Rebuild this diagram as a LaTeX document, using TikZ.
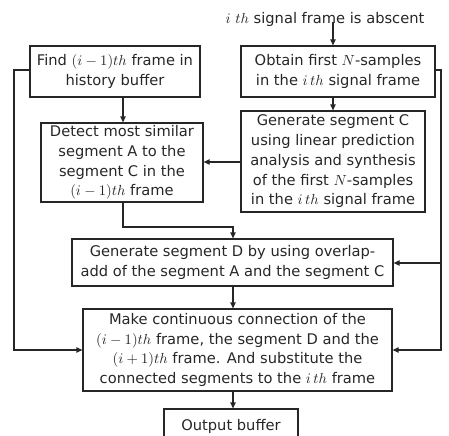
\documentclass[tikz,border=0pt]{standalone}
\usepackage{fontspec}
\setmainfont{DejaVu Sans}
\usetikzlibrary{arrows.meta}
\begin{document}
\begin{tikzpicture}[x=0.75pt,y=-0.75pt,
  box/.style={draw=black!85, line width=0.9pt, align=center, inner sep=0pt,
    text=black!85, font=\fontsize{11}{14.8}\selectfont},
  arr/.style={draw=black!85, line width=0.9pt, -{Triangle[length=4.5pt,width=4pt]}},
  ln/.style={draw=black!85, line width=0.9pt}]
\useasboundingbox (0,0) rectangle (449,435);
\begin{scope}
\clip (0,0) rectangle (449,435);
\node[box, minimum width=127.5pt, minimum height=38.25pt] (find) at (115,71.5)
  {Find $(i-1)th$ frame in\\history buffer};
\node[box, minimum width=145.5pt, minimum height=38.25pt] (obtain) at (338,71.5)
  {Obtain first $N$-samples\\in the $i\,th$ signal frame};
\node[box, minimum width=121.5pt, minimum height=59.25pt] (detect) at (122,162.5)
  {Detect most similar\\segment A to the\\segment C in the\\$(i-1)th$ frame};
\node[box, minimum width=138pt, minimum height=75.75pt] (genc) at (333,161.5)
  {Generate segment C\\using linear prediction\\analysis and synthesis\\of the first $N$-samples\\in the $i\,th$ signal frame};
\node[box, minimum width=240.75pt, minimum height=35.25pt] (gend) at (232.5,262.5)
  {Generate segment D by using overlap-\\add of the segment A and the segment C};
\node[box, minimum width=231.75pt, minimum height=61.5pt] (make) at (237.5,350)
  {Make continuous connection of the\\$(i-1)th$ frame, the segment D and the\\$(i+1)th$ frame. And substitute the\\connected segments to the $i\,th$ frame};
\node[box, minimum width=100.5pt, minimum height=27pt, text depth=0pt] (out) at (231,427)
  {\raisebox{3pt}{Output buffer}};
\node[text=black!85, font=\fontsize{11}{13}\selectfont, inner sep=0pt] (title) at (325,19)
  {$i\ th$ signal frame is abscent};
\coordinate (tstart) at (333,22);
% connectors
\draw[arr] (tstart) -- (obtain.north -| tstart);
\draw[arr] (find.south -| 123,0) -- (detect.north -| 123,0);
\draw[arr] (obtain.south -| 333,0) -- (genc.north -| 333,0);
\draw[arr] (genc.west |- 0,162) -- (detect.east |- 0,162);
\draw[arr] (detect.south -| 123,0) -- (123,227) -- (233,227) -- (gend.north -| 233,0);
\draw[arr] (gend.south -| 233,0) -- (make.north -| 233,0);
\draw[arr] (make.south -| 233,0) -- (out.north -| 233,0);
\draw[arr] (find.west |- 0,70) -- (14,70) -- (14,350) -- (make.west |- 0,350);
\draw[arr] (obtain.east |- 0,70) -- (441,70) -- (441,350) -- (make.east |- 0,350);
\draw[arr] (441,263) -- (gend.east |- 0,263);
\end{scope}
\end{tikzpicture}
\end{document}
